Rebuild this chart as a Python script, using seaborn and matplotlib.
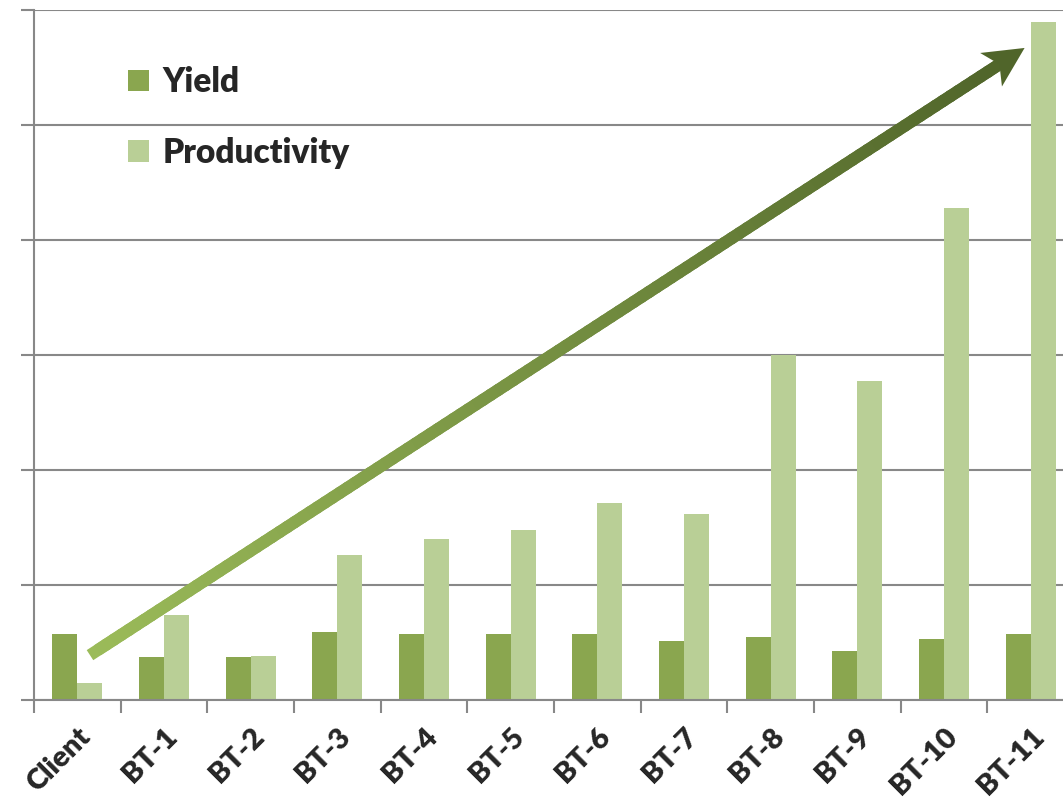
import numpy as np
import pandas as pd
import matplotlib
matplotlib.use("Agg")
import matplotlib.pyplot as plt
import seaborn as sns
from matplotlib.collections import LineCollection
from matplotlib.patches import Polygon
import matplotlib.colors as mcolors

categories = ["Client", "BT-1", "BT-2", "BT-3", "BT-4", "BT-5", "BT-6",
              "BT-7", "BT-8", "BT-9", "BT-10", "BT-11"]
yield_vals = [0.57, 0.37, 0.37, 0.59, 0.57, 0.57, 0.57, 0.51, 0.55, 0.43, 0.53, 0.57]
prod_vals = [0.15, 0.74, 0.38, 1.26, 1.40, 1.48, 1.71, 1.62, 3.00, 2.77, 4.28, 5.90]
series = ["Yield", "Productivity"]
colors = ["#8aa64f", "#b9cf96"]

df = pd.DataFrame({
    "cat": categories * 2,
    "val": yield_vals + prod_vals,
    "series": [series[0]] * len(categories) + [series[1]] * len(categories),
})

sns.set_style("white")
plt.rcParams["font.family"] = ["Lato", "DejaVu Sans"]

W, H = 1063, 808
fig = plt.figure(figsize=(W / 100, H / 100), dpi=100)
ax = fig.add_axes([34 / W, (H - 700) / H, 1040 / W, 690 / H])

sns.barplot(data=df, x="cat", y="val", hue="series", palette=colors,
            width=0.577, gap=0, ax=ax, order=categories, hue_order=series,
            saturation=1, linewidth=0, legend=True)

n = len(categories)
ax.set_xlim(-0.5, n - 0.5)
ax.set_ylim(0, 6)
ax.set_xlabel("")
ax.set_ylabel("")

gc = "#888888"
ax.set_yticks(np.arange(0, 7, 1))
ax.set_yticklabels([])
ax.yaxis.grid(True, color=gc, linewidth=1.5)
ax.set_axisbelow(True)
ax.set_xticks(np.arange(-0.5, n, 1))
ax.set_xticklabels([])
ax.set_xticks(np.arange(n), minor=True)
ax.set_xticklabels(categories, minor=True, rotation=45, ha="right",
                   rotation_mode="anchor", fontsize=21, fontweight="heavy")
ax.tick_params(axis="x", which="minor", length=0, pad=17)
ax.tick_params(axis="both", which="major", length=9.5, width=1.5, color=gc,
               direction="out")
ax.tick_params(left=True, bottom=True)
for s in ["top", "right"]:
    ax.spines[s].set_visible(False)
for s in ["left", "bottom"]:
    ax.spines[s].set_color(gc)
    ax.spines[s].set_linewidth(1.5)

leg = ax.legend(loc="upper left", bbox_to_anchor=(0.062, 0.962), frameon=False,
                prop={"family": "Lato", "weight": "heavy", "size": 24},
                handlelength=0.62, handleheight=0.62, handletextpad=0.4,
                labelspacing=1.15)

# gradient trend arrow
fig.canvas.draw()
p0 = ax.transData.transform((0.146, 0.39))
p1 = ax.transData.transform((10.93, 5.67))
d = p1 - p0
L = np.hypot(*d)
u = d / L
nrm = np.array([-u[1], u[0]])
lw_px = 12
head_len, head_w = 40, 40
shaft_end = p1 - u * head_len * 0.75
start = p0 + u * lw_px / 2
N = 120
ts = np.linspace(0, 1, N + 1)
pts = start[None, :] + (shaft_end - start)[None, :] * ts[:, None]
segs = np.stack([pts[:-1], pts[1:]], axis=1)
c0 = np.array(mcolors.to_rgb("#9bbb59"))
c1 = np.array(mcolors.to_rgb("#50652a"))
cols = [tuple(c0 + (c1 - c0) * t) for t in ts[:-1]]
lc = LineCollection(segs, colors=cols, linewidths=lw_px * 0.72, transform=None,
                    capstyle="projecting", zorder=5)
fig.add_artist(lc)
base = p1 - u * head_len
head = Polygon([p1, base + nrm * head_w / 2, shaft_end, base - nrm * head_w / 2],
               closed=True, transform=None, facecolor="#50652a",
               edgecolor="none", zorder=6)
fig.add_artist(head)

fig.savefig("out.png", dpi=100)
